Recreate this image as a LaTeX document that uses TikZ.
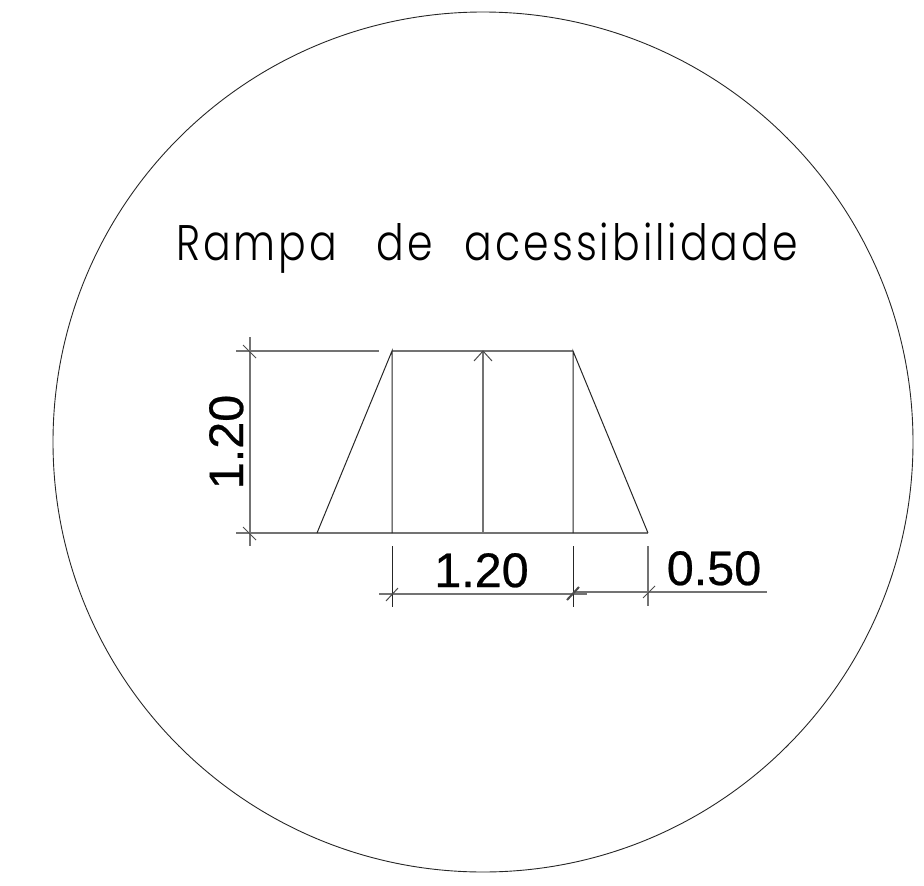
\documentclass[tikz,border=0pt]{standalone}
\usepackage{fontspec}
\setmainfont[FakeBold=0.5]{Liberation Sans}
\newfontfamily\titlefont[LetterSpace=6,FakeStretch=0.82]{Poppins Light}
\tikzset{
  obj/.style={draw=black!85,line width=1pt},
  dim/.style={draw=black!55,line width=1.6pt},
  tick/.style={draw=black!70,line width=1pt},
  dimtext/.style={inner sep=0pt,anchor=base,font=\fontsize{48.5}{48.5}\selectfont,text=black},
}
\begin{document}
\begin{tikzpicture}[x=1pt,y=-1pt]
\useasboundingbox (0,0) rectangle (924,886);
\coordinate (center) at (483,442);
\draw[obj,line width=0.9pt] (center) circle[radius=430];
% outline
\coordinate (tl) at (392,351);
\coordinate (tr) at (573,351);
\coordinate (bl) at (317,533);
\coordinate (br) at (648,533);
\coordinate (bml) at (392,533);
\coordinate (bmr) at (573,533);
\coordinate (am) at (483,533);
\coordinate (at) at (483,351);
% gray dimension lines
\draw[dim] (236,351) -- (379,351);
\draw[dim] (236,533) -- (br);
\draw[dim] (tl) -- (tr);
\draw[dim] (250,337) -- (250,546);
\draw[dim] (am) -- (at);
\draw[dim] (379,594) -- (587,594);
\draw[dim] (573,592) -- (767,592);
\draw[dim] (648,546) -- (648,606);
% object lines
\draw[obj] (bl) -- (tl) -- (bml);
\draw[obj] (br) -- (tr) -- (bmr);
\draw[obj] (392,546) -- (392,607);
\draw[obj] (573,546) -- (573,607);
% ticks and arrow
\draw[tick] (243,345) -- (256,358);
\draw[tick] (243,527) -- (256,540);
\draw[tick] (386,601) -- (398,588);
\draw[tick,line width=2pt] (567,600) -- (579,587);
\draw[tick] (643,598) -- (655,586);
\draw[tick] (474,361) -- (at) -- (492,361);
% texts
\node[inner sep=0pt,anchor=base west,font=\titlefont\fontsize{50}{50}\selectfont] (title) at (176,260) {Rampa\hspace{25pt} de\hspace{18pt} acessibilidade};
\node[dimtext] (dimh) at (481.5,587) {1.20};
\node[dimtext] (dimr) at (714,585) {0.50};
\node[dimtext,rotate=90] (dimv) at (243,442) {1.20};
\end{tikzpicture}
\end{document}
